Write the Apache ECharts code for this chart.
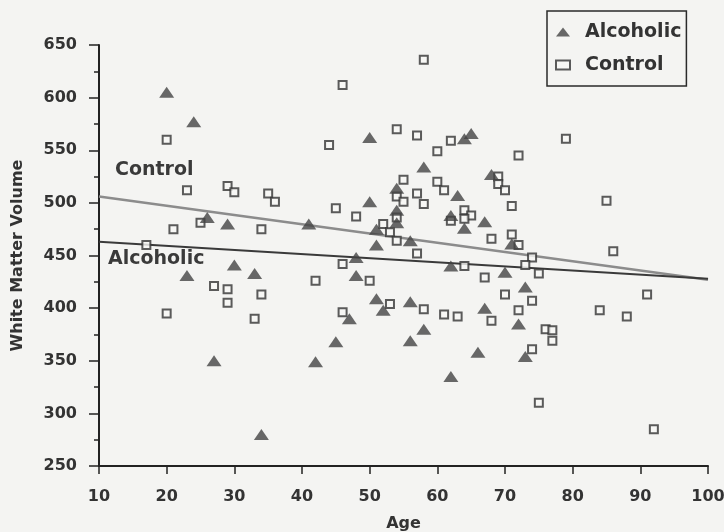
<!DOCTYPE html>
<html>
<head>
<meta charset="utf-8">
<title>White Matter Volume vs Age</title>
<script src="https://cdn.jsdelivr.net/npm/echarts@6/dist/echarts.min.js"></script>
<style>
  html, body { margin: 0; padding: 0; background: #f4f4f2; }
  #chart { width: 724px; height: 532px; }
</style>
</head>
<body>
<div id="chart"></div>
<script>
// 酒精组 [age, volume]
var alcoholic = [
  [20, 605], [24, 577], [26, 486], [29, 480], [41, 480], [23, 431], [30, 441], [33, 433],
  [27, 350], [34, 280], [50, 562], [64, 561], [65, 566], [58, 534], [68, 527], [54, 514],
  [63, 507], [50, 501], [54, 493], [62, 488], [67, 482], [54, 481], [64, 476], [51, 475],
  [56, 464], [51, 460], [71, 461], [48, 448], [62, 440], [70, 434], [48, 431], [51, 409],
  [52, 398], [56, 406], [67, 400], [72, 385], [47, 390], [45, 368], [58, 380], [56, 369],
  [66, 358], [42, 349], [62, 335], [73, 420], [73, 354]
]
// 对照组 [age, volume]
var control = [
  [20, 560], [23, 512], [29, 516], [30, 510], [35, 509], [36, 501], [25, 481], [21, 475],
  [34, 475], [17, 460], [27, 421], [29, 418], [29, 405], [34, 413], [20, 395], [33, 390],
  [58, 636], [46, 612], [54, 570], [57, 564], [44, 555], [62, 559], [60, 549], [72, 545],
  [69, 525], [69, 518], [70, 512], [55, 522], [60, 520], [61, 512], [54, 506], [55, 501],
  [57, 509], [58, 499], [71, 497], [45, 495], [48, 487], [54, 486], [64, 493], [65, 488],
  [64, 485], [62, 483], [52, 480], [53, 472], [54, 464], [68, 466], [71, 470], [57, 452],
  [46, 442], [64, 440], [42, 426], [50, 426], [67, 429], [70, 413], [53, 404], [58, 399],
  [61, 394], [63, 392], [68, 388], [72, 398], [46, 396], [72, 460], [86, 454], [74, 448],
  [73, 441], [75, 433], [74, 407], [91, 413], [84, 398], [88, 392], [76, 380], [77, 379],
  [77, 369], [74, 361], [75, 310], [92, 285], [79, 561], [85, 502]
]
// 回归线端点
var alcoholicFit = [[10, 463], [100, 428]]
var controlFit = [[10, 506], [100, 427]]

var font = 'DejaVu Sans'
var ink = '#333'

var myChart = echarts.init(document.getElementById('chart'))
var option = {
  backgroundColor: '#f4f4f2',
  animation: false,
  grid: {
    left: 99,
    right: 16,
    top: 45,
    bottom: 66,
    outerBoundsMode: 'none'
  },
  legend: {
    data: [
      { name: 'Alcoholic', icon: 'triangle' },
      { name: 'Control', icon: 'rect' }
    ],
    orient: 'vertical',
    left: 547,
    top: 11,
    padding: [10, 5, 10, 8],
    itemGap: 11,
    itemWidth: 14,
    itemHeight: 9,
    borderColor: '#2a2a2a',
    borderWidth: 1.5,
    selectedMode: false,
    textStyle: {
      color: ink,
      fontFamily: font,
      fontWeight: 'bold',
      fontSize: 19,
      lineHeight: 22,
      padding: [0, 0, 0, 10]
    }
  },
  xAxis: {
    type: 'value',
    min: 10,
    max: 100,
    interval: 10,
    name: 'Age',
    nameLocation: 'middle',
    nameGap: 50,
    nameTextStyle: {
      color: ink,
      fontFamily: font,
      fontWeight: 'bold',
      fontSize: 16
    },
    axisLine: { onZero: false, lineStyle: { color: '#222', width: 2 } },
    axisTick: { length: 8, lineStyle: { color: '#222', width: 1.5 } },
    axisLabel: {
      margin: 23,
      color: ink,
      fontFamily: font,
      fontWeight: 'bold',
      fontSize: 16
    },
    splitLine: { show: false }
  },
  yAxis: {
    type: 'value',
    min: 250,
    max: 650,
    interval: 50,
    name: 'White Matter Volume',
    nameLocation: 'middle',
    nameGap: 73,
    nameTextStyle: {
      color: ink,
      fontFamily: font,
      fontWeight: 'bold',
      fontSize: 16
    },
    axisLine: { show: true, onZero: false, lineStyle: { color: '#222', width: 2 } },
    axisTick: { show: true, length: 10, lineStyle: { color: '#222', width: 1.5 } },
    minorTick: { show: true, splitNumber: 2, length: 5, lineStyle: { color: '#222', width: 1.5 } },
    axisLabel: {
      margin: 22,
      color: ink,
      fontFamily: font,
      fontWeight: 'bold',
      fontSize: 16
    },
    splitLine: { show: false }
  },
  graphic: [
    {
      type: 'text',
      left: 115,
      top: 161,
      style: { text: 'Control', fill: '#3a3a3a', font: 'bold 19px "DejaVu Sans"' }
    },
    {
      type: 'text',
      left: 108,
      top: 250,
      style: { text: 'Alcoholic', fill: '#3a3a3a', font: 'bold 19px "DejaVu Sans"' }
    }
  ],
  series: [
    {
      name: 'controlFit',
      type: 'line',
      data: controlFit,
      symbol: 'none',
      z: 1,
      lineStyle: { color: '#8c8c8c', width: 2.5 }
    },
    {
      name: 'alcoholicFit',
      type: 'line',
      data: alcoholicFit,
      symbol: 'none',
      z: 1,
      lineStyle: { color: '#3a3a3a', width: 2 }
    },
    {
      name: 'Control',
      type: 'scatter',
      data: control,
      symbol: 'rect',
      symbolSize: 8,
      symbolKeepAspect: true,
      z: 3,
      itemStyle: {
        color: '#f7f7f5',
        borderColor: '#333',
        borderWidth: 2
      }
    },
    {
      name: 'Alcoholic',
      type: 'scatter',
      data: alcoholic,
      symbol: 'triangle',
      symbolSize: [15, 11],
      z: 4,
      itemStyle: { color: '#444' }
    }
  ]
}
myChart.setOption(option)
</script>
</body>
</html>
